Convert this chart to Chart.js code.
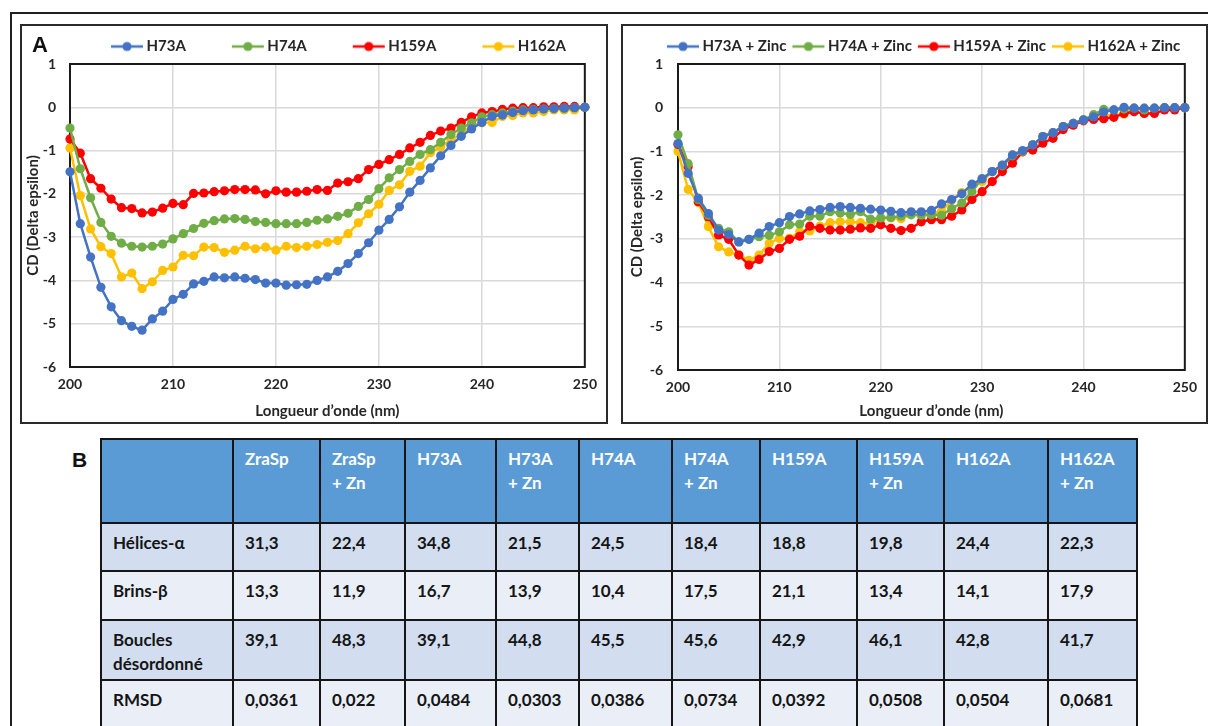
<!DOCTYPE html>
<html>
<head>
<meta charset="utf-8">
<script src="https://cdn.jsdelivr.net/npm/chart.js@4.4.1/dist/chart.umd.min.js"></script>
<style>
html,body{margin:0;padding:0;background:#fff;}
body{width:1208px;height:726px;position:relative;overflow:hidden;font-family:Lato,"Open Sans",sans-serif;}
#outer{position:absolute;left:10px;top:12px;width:1300px;height:800px;border:2px solid #1f1f1f;box-sizing:border-box;}
.box{position:absolute;top:24px;height:400px;border:2px solid #2a2a2a;box-sizing:border-box;background:#fff;}
#boxA{left:20px;width:588px;}
#boxB{left:621px;width:587px;}
canvas{position:absolute;}
#chartA{left:22px;top:26px;}
#chartB{left:623px;top:26px;}
.panel{position:absolute;font-family:"Liberation Sans",Arial,sans-serif;font-weight:bold;line-height:1;color:#111;}
#labA{left:32px;top:34px;font-size:22px;}
#labB{left:72px;top:449px;font-size:21px;}
#tbl{position:absolute;left:100px;top:438px;border-collapse:collapse;table-layout:fixed;width:1036px;
     font-family:Lato,"Open Sans",sans-serif;font-weight:bold;font-size:17px;line-height:24px;color:#151515;}
#tbl td,#tbl th{border:2px solid #161616;vertical-align:top;text-align:left;padding:7px 4px 0 11px;font-weight:bold;overflow:hidden;}
#tbl thead th{background:#5B9BD5;color:#fff;}
#tbl tbody tr:nth-child(odd) td{background:#D2DEEF;}
#tbl tbody tr:nth-child(even) td{background:#EAEFF7;}
</style>
</head>
<body>
<div id="outer"></div>
<div class="box" id="boxA"></div>
<div class="box" id="boxB"></div>
<canvas id="chartA" width="584" height="396"></canvas>
<canvas id="chartB" width="583" height="396"></canvas>
<div class="panel" id="labA">A</div>
<div class="panel" id="labB">B</div>
<table id="tbl"></table>

<script>
// ---------- data ----------
const wavelengths = [200,201,202,203,204,205,206,207,208,209,210,211,212,213,214,215,216,217,218,219,220,221,222,223,224,225,226,227,228,229,230,231,232,233,234,235,236,237,238,239,240,241,242,243,244,245,246,247,248,249,250];

const h73a = [-1.49,-2.69,-3.46,-4.16,-4.61,-4.93,-5.06,-5.15,-4.89,-4.71,
  -4.44,-4.32,-4.08,-4.02,-3.92,-3.94,-3.92,-3.95,-3.98,-4.06,
  -4.06,-4.11,-4.10,-4.09,-4.00,-3.92,-3.79,-3.61,-3.38,-3.13,
  -2.84,-2.59,-2.30,-1.96,-1.69,-1.40,-1.12,-0.88,-0.67,-0.50,
  -0.35,-0.21,-0.18,-0.12,-0.08,-0.06,-0.04,-0.03,-0.02,-0.01,0];
const h74a = [-0.48,-1.42,-2.09,-2.66,-2.98,-3.14,-3.21,-3.23,-3.21,-3.16,
  -3.04,-2.92,-2.80,-2.68,-2.62,-2.58,-2.57,-2.59,-2.64,-2.66,
  -2.69,-2.69,-2.69,-2.66,-2.61,-2.58,-2.52,-2.45,-2.29,-2.13,
  -1.88,-1.63,-1.44,-1.25,-1.09,-0.98,-0.81,-0.63,-0.48,-0.36,
  -0.22,-0.17,-0.13,-0.09,-0.06,-0.05,-0.04,-0.03,-0.02,-0.01,0];
const h159a = [-0.73,-1.06,-1.65,-1.87,-2.12,-2.32,-2.34,-2.44,-2.42,-2.33,
  -2.22,-2.25,-1.99,-1.98,-1.95,-1.93,-1.90,-1.90,-1.91,-2.00,
  -1.93,-1.96,-1.96,-1.94,-1.90,-1.92,-1.75,-1.72,-1.65,-1.44,
  -1.32,-1.21,-1.09,-0.94,-0.81,-0.65,-0.55,-0.48,-0.35,-0.22,
  -0.13,-0.10,-0.05,-0.02,-0.01,-0.01,0.01,0.01,0.02,0.02,0];
const h162a = [-0.94,-2.04,-2.81,-3.22,-3.38,-3.92,-3.83,-4.19,-4.03,-3.77,
  -3.69,-3.42,-3.43,-3.23,-3.24,-3.35,-3.30,-3.21,-3.27,-3.23,
  -3.30,-3.21,-3.24,-3.21,-3.17,-3.12,-3.08,-2.92,-2.67,-2.46,
  -2.24,-1.92,-1.79,-1.48,-1.36,-1.05,-0.92,-0.75,-0.63,-0.42,
  -0.36,-0.35,-0.21,-0.19,-0.13,-0.13,-0.10,-0.06,-0.06,-0.06,0];

const h73aZn = [-0.82,-1.50,-2.07,-2.42,-2.80,-2.90,-3.07,-3.01,-2.87,-2.72,
  -2.63,-2.49,-2.43,-2.36,-2.33,-2.28,-2.26,-2.28,-2.30,-2.32,
  -2.34,-2.37,-2.40,-2.38,-2.38,-2.35,-2.20,-2.10,-1.97,-1.75,
  -1.63,-1.46,-1.31,-1.08,-0.98,-0.85,-0.66,-0.57,-0.43,-0.36,
  -0.28,-0.21,-0.10,-0.05,0.01,-0.01,-0.01,-0.01,0,0,0];
const h74aZn = [-0.62,-1.28,-2.10,-2.46,-2.76,-2.84,-3.07,-3.01,-2.95,-2.92,
  -2.84,-2.68,-2.66,-2.48,-2.48,-2.38,-2.41,-2.44,-2.38,-2.55,
  -2.52,-2.51,-2.48,-2.45,-2.46,-2.45,-2.46,-2.31,-2.18,-1.92,
  -1.62,-1.46,-1.33,-1.10,-1.00,-0.85,-0.66,-0.57,-0.43,-0.36,
  -0.28,-0.16,-0.04,-0.05,-0.03,-0.01,-0.05,-0.01,0,0,0];
const h159aZn = [-0.84,-1.35,-2.15,-2.50,-2.91,-3.01,-3.37,-3.60,-3.47,-3.29,
  -3.22,-3.01,-2.94,-2.71,-2.76,-2.80,-2.80,-2.78,-2.75,-2.76,
  -2.68,-2.76,-2.81,-2.76,-2.61,-2.56,-2.56,-2.48,-2.34,-2.10,
  -1.92,-1.69,-1.46,-1.27,-1.01,-0.97,-0.81,-0.70,-0.50,-0.40,
  -0.30,-0.27,-0.25,-0.22,-0.13,-0.09,-0.13,-0.13,-0.05,-0.05,0];
const h162aZn = [-1.00,-1.87,-2.17,-2.72,-3.18,-3.30,-3.37,-3.49,-3.37,-3.10,
  -2.99,-2.99,-2.84,-2.82,-2.71,-2.63,-2.61,-2.61,-2.63,-2.65,
  -2.54,-2.52,-2.54,-2.44,-2.44,-2.43,-2.37,-2.11,-1.94,-1.77,
  -1.69,-1.46,-1.31,-1.08,-1.01,-0.85,-0.66,-0.57,-0.43,-0.36,
  -0.28,-0.21,-0.17,-0.17,-0.15,-0.01,-0.01,-0.01,0,0,0];

const namesA = ['H73A','H74A','H159A','H162A'];
const namesB = ['H73A + Zinc','H74A + Zinc','H159A + Zinc','H162A + Zinc'];
const seriesColors = ['#4472C4','#70AD47','#FF0000','#FFC000'];
const xTicks = [200,210,220,230,240,250];
const yTicks = [1,0,-1,-2,-3,-4,-5,-6];
const xTitle = 'Longueur d\u2019onde (nm)';
const yTitle = 'CD (Delta epsilon)';

// table data
const tableHeaders = ['', 'ZraSp', 'ZraSp<br>+ Zn', 'H73A', 'H73A<br>+ Zn', 'H74A', 'H74A<br>+ Zn', 'H159A', 'H159A<br>+ Zn', 'H162A', 'H162A<br>+ Zn'];
const rowLabels = ['Hélices-α', 'Brins-β', 'Boucles<br>désordonné', 'RMSD'];
const helices = ['31,3','22,4','34,8','21,5','24,5','18,4','18,8','19,8','24,4','22,3'];
const brins   = ['13,3','11,9','16,7','13,9','10,4','17,5','21,1','13,4','14,1','17,9'];
const boucles = ['39,1','48,3','39,1','44,8','45,5','45,6','42,9','46,1','42,8','41,7'];
const rmsd    = ['0,0361','0,022','0,0484','0,0303','0,0386','0,0734','0,0392','0,0508','0,0504','0,0681'];
const colWidths = [132,87,85,91,83,93,88,97,87,104,89];
const rowHeights = [84,48,49,60,52];

// ---------- table ----------
(function buildTable(){
  const t = document.getElementById('tbl');
  let html = '<colgroup>' + colWidths.map(w => '<col style="width:'+w+'px">').join('') + '</colgroup>';
  html += '<thead><tr style="height:'+rowHeights[0]+'px">' + tableHeaders.map(h => '<th>'+h+'</th>').join('') + '</tr></thead><tbody>';
  [helices, brins, boucles, rmsd].forEach((row, i) => {
    html += '<tr style="height:'+rowHeights[i+1]+'px"><td>'+rowLabels[i]+'</td>' + row.map(v => '<td>'+v+'</td>').join('') + '</tr>';
  });
  html += '</tbody>';
  t.innerHTML = html;
})();

// ---------- charts ----------
const FONT = 'Lato, "Open Sans", sans-serif';
const TXT = '#262626';

function legendIcon(color, lead){
  const c = document.createElement('canvas');
  c.width = lead + 34; c.height = 12;
  const g = c.getContext('2d');
  g.strokeStyle = color; g.lineWidth = 2.5;
  g.beginPath(); g.moveTo(lead + 1, 6); g.lineTo(lead + 33, 6); g.stroke();
  g.fillStyle = color;
  g.beginPath(); g.arc(lead + 17, 6, 4.6, 0, Math.PI * 2); g.fill();
  return c;
}

const plotFrame = {
  id: 'plotFrame',
  beforeDatasetsDraw(chart){
    const {ctx, chartArea: a} = chart;
    ctx.save();
    ctx.strokeStyle = '#1a1a1a'; ctx.lineWidth = 2;
    ctx.strokeRect(a.left, a.top, a.right - a.left, a.bottom - a.top);
    ctx.restore();
  }
};
const legendPlace = {
  id: 'legendPlace',
  afterLayout(chart, args, opts){
    const lg = chart.legend;
    lg.left = opts.x - chart.options.plugins.legend.labels.padding;
    lg.right = lg.left + 3000;
  }
};

function buildChart(id, names, series, cfg){
  const icons = seriesColors.map(c => legendIcon(c, cfg.lead));
  const datasets = series.map((vals, i) => ({
    label: names[i],
    data: wavelengths.map((w, j) => ({x: w, y: vals[j]})),
    borderColor: seriesColors[i],
    backgroundColor: seriesColors[i],
    pointBackgroundColor: seriesColors[i],
    pointBorderWidth: 0,
    pointRadius: 4.6,
    borderWidth: 2.5,
    tension: 0,
    clip: false
  }));
  const tickFont = {family: FONT, weight: 'bold', size: 14};
  const titleFont = {family: FONT, weight: 'bold', size: 15};
  return new Chart(document.getElementById(id), {
    type: 'line',
    data: {datasets},
    plugins: [plotFrame, legendPlace],
    options: {
      responsive: false,
      animation: false,
      devicePixelRatio: 1,
      layout: {padding: {top: 3, left: 0, right: cfg.padRight, bottom: 0}},
      plugins: {
        tooltip: {enabled: false},
        legendPlace: {x: cfg.legendX},
        legend: {
          position: 'top',
          align: 'start',
          labels: {
            usePointStyle: true,
            pointStyleWidth: cfg.lead + 24,
            padding: 10,
            color: TXT,
            font: {family: FONT, weight: 'bold', size: 15},
            generateLabels(chart){
              const items = Chart.defaults.plugins.legend.labels.generateLabels(chart);
              items.forEach((it, i) => { it.pointStyle = icons[i]; });
              return items;
            }
          }
        }
      },
      scales: {
        x: {
          type: 'linear', min: 200, max: 250,
          afterBuildTicks: s => { s.ticks = xTicks.map(v => ({value: v})); },
          afterFit: s => { s.height = cfg.xHeight; },
          ticks: {padding: 9, color: TXT, font: tickFont, maxRotation: 0},
          grid: {color: '#d9d9d9', lineWidth: 1.5, drawTicks: false},
          border: {display: false},
          title: {display: true, text: xTitle, color: TXT, font: titleFont, padding: {top: 0, bottom: 2}}
        },
        y: {
          min: -6, max: 1,
          afterBuildTicks: s => { s.ticks = yTicks.map(v => ({value: v})); },
          afterFit: s => { s.width = cfg.yWidth; },
          ticks: {padding: cfg.yPad, color: TXT, font: tickFont},
          grid: {color: '#d9d9d9', lineWidth: 1.5, drawTicks: false},
          border: {display: false},
          title: {display: true, text: yTitle, color: TXT, font: titleFont, padding: {top: cfg.yTitlePad, bottom: 0}}
        }
      }
    }
  });
}

function drawAll(){
  buildChart('chartA', namesA, [h73a, h74a, h159a, h162a],
    {lead: 40, legendX: 53, padRight: 21, xHeight: 55, yWidth: 48, yPad: 14, yTitlePad: 2});
  buildChart('chartB', namesB, [h73aZn, h74aZn, h159aZn, h162aZn],
    {lead: 0, legendX: 48, padRight: 19, xHeight: 52, yWidth: 55, yPad: 15, yTitlePad: 5});
}

const fontLoads = [
  document.fonts.load('bold 15px Lato'),
  document.fonts.load('bold 14px Lato'),
  document.fonts.load('bold 17px Lato')
];
Promise.all(fontLoads).then(drawAll, drawAll);
</script>
</body>
</html>
